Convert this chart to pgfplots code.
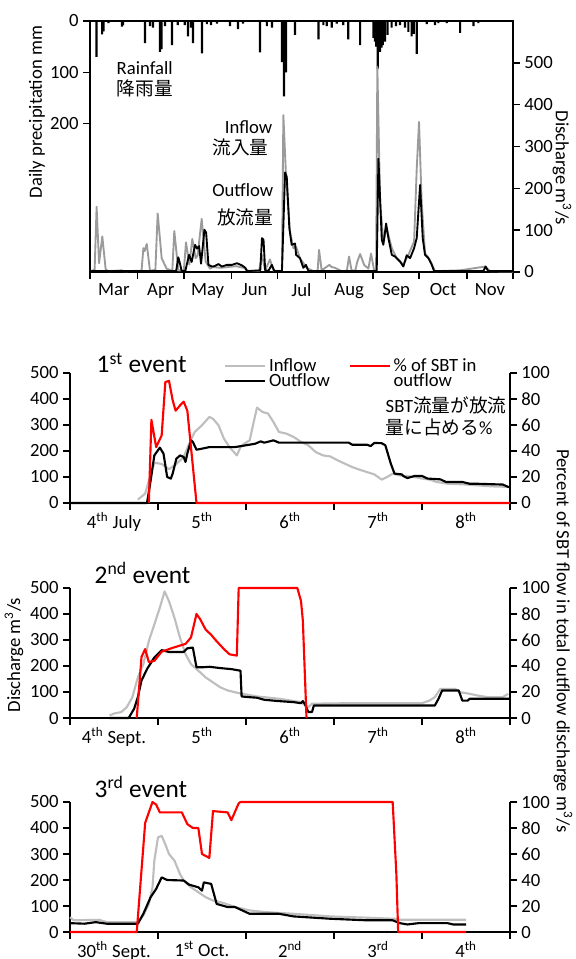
\documentclass[border=0pt]{standalone}
\usepackage{pgfplots}
\pgfplotsset{compat=1.18}
\usepackage{fontspec}
\setmainfont{Carlito}
\newfontfamily\jp{Noto Sans CJK JP}
\newcommand\fs{\fontsize{14}{16}\selectfont}
\newcommand\ft{\fontsize{19}{21}\selectfont}
\definecolor{topgray}{RGB}{155,155,155}
\definecolor{evgray}{RGB}{190,190,190}
\definecolor{sbtred}{RGB}{255,0,0}
\pgfplotsset{
  myaxis/.style={
    scale only axis, clip=false,
    axis line style={-, line width=1.1pt},
    every tick/.style={black, line width=1.1pt},
    tick align=outside,
    major tick length=5pt,
    tick label style={font=\fs},
    /pgf/number format/assume math mode=true,
  },
  evbase/.style={myaxis, width=330pt, height=97.5pt, xmin=0, xmax=120},
  evleft/.style={evbase, ymin=0, ymax=500, ytick={0,100,...,500},
    axis x line*=bottom, axis y line*=left, xtick pos=bottom, ytick pos=left,
    xtick={0,24,...,120}, x tick label as interval,
    xticklabel style={yshift=1.5pt}},
  evright/.style={evbase, ymin=0, ymax=100, ytick={0,20,...,100},
    axis y line*=right, axis x line=none, ytick pos=right},
}
\begin{document}
\begin{tikzpicture}
\useasboundingbox (0pt,0pt) rectangle (431.25pt,-719.25pt);

% ---------------- top panel: rainfall ----------------
\begin{axis}[myaxis, at={(67.5pt,-204pt)}, anchor=south west,
  width=317.25pt, height=188.25pt,
  xmin=0, xmax=275, ymin=0, ymax=489, y dir=reverse,
  xtick=\empty, ytick={0,100,200}, ytick pos=left]
\addplot[ybar, fill=black, draw=none, bar width=1.4] coordinates {
(4.2,70)(7.9,26)(8.8,20)(12,4)(20.8,11)(21.5,8)(35.8,43)(39,10)(41,13)(45.5,60)(46.5,55)(48.8,10)
(53.3,47)(57,8)(61.6,8)(63.7,30)(65.7,13)(67,43)(72.8,63)(76,6)(78.7,8)(82.6,5)(91,10)(96.2,16)
(99.5,5)(110.5,61)(115,10)(118.3,13)(124.8,80)(125.6,70)(126.1,147)(127.4,100)(133.3,27)(148.5,36)
(151.7,8)(153.9,10)(157.2,13)(160.4,5)(164.6,8)(167.9,36)(175.6,47)(184.2,33)(185.2,40)(186,50)
(187.1,93)(188.6,60)(189.5,52)(190.3,47)(191.8,40)(193.5,27)(196.1,13)(198.9,10)(201.5,8)(204.8,13)
(207,21)(209.1,30)(210.5,25)(212.4,64)(218.9,6)(224.3,8)(226.5,4)(231.9,4)(240.6,23)(249.3,10)(252.5,4)
};
\end{axis}

% ---------------- top panel: discharge ----------------
\begin{axis}[myaxis, at={(67.5pt,-204pt)}, anchor=south west,
  width=317.25pt, height=188.25pt,
  xmin=0, xmax=275, ymin=0, ymax=600,
  ytick={0,100,...,500}, ytick pos=right, xtick pos=bottom,
  xtick={0,31,61,92,122,153,184,214,245,275},
  xticklabels={Mar,Apr,May,Jun,Jul,Aug,Sep,Oct,Nov},
  x tick label as interval]
\addplot[topgray, line width=1.4pt, line join=round] coordinates {
(0,2)(3,5)(4.3,156)(5.9,21)(8.0,85)(10.2,6)(12,2)(20.6,4)(22,2)(33.5,3)(34.7,57)(35.5,50)(36.9,67)
(39,3)(42.5,5)(44,140)(46.6,33)(49.8,8)(53.5,3)(54.8,98)(57.4,4)(61,3)(62.4,71)(64.6,18)(66.5,79)
(68.7,33)(70,40)(72.6,127)(75.2,25)(78,8)(80,12)(85,10)(90,12)(95,14)(100,10)(103,3)(110,3)
(111.8,40)(113.9,4)(117,30)(119.3,3)(124.8,3)(125.7,375)(127.4,232)(130,97)(132.2,57)(134,60)
(136.5,33)(140.9,10)(145.2,2)(148,3)(148.9,53)(150.6,4)(155.6,17)(157,12)(159.3,10)(163.6,2)(167,3)
(168.4,37)(170.1,3)(172.5,4)(173.8,25)(175.6,43)(178.2,17)(181,8)(182.7,44)(184.7,4)(186,5)
(186.8,490)(188.6,168)(190.7,73)(192.9,104)(196.2,57)(199.4,33)(203.7,17)(207,41)(210.7,73)
(212.4,246)(213.9,359)(215.6,168)(217.8,45)(221,29)(224.3,2)(240.6,4)(256.8,13)(260.1,2)(275,1)
};
\addplot[black, line width=1.4pt, line join=round] coordinates {
(0,2)(56,2)(57.4,35)(58.5,20)(59.6,2)(62,3)(64.4,41)(66.1,24)(68.3,65)(69.6,56)(70.9,62)(72.2,20)
(74.4,101)(75.5,94)(77,17)(79.2,13)(81,14)(83.5,19)(85.7,13)(89,17)(92.2,17)(95.5,21)(98.7,16)
(101,10)(102,2)(110.7,4)(111.8,81)(112.8,77)(113.9,4)(116,3)(118.2,17)(119.9,2)(124.8,2)(126.8,238)
(127.9,228)(129.6,105)(131.1,65)(133.3,68)(134,41)(136.5,33)(138.7,10)(140.4,17)(142,2)(186.4,2)
(187.5,271)(189.7,77)(190.7,65)(192.5,116)(194,81)(196.2,41)(198.3,37)(201.6,25)(203.7,13)(205.9,40)
(208.1,33)(210.7,57)(212.4,81)(214.6,208)(216.3,81)(217.8,41)(220,33)(222.2,17)(223.7,2)(255.7,2)
(257.2,13)(258.9,2)(275,2)
};
\end{axis}

\node[font=\fs, rotate=90] at (27.75pt,-84pt) {Daily precipitation mm};
\node[font=\fs, rotate=-90] at (421.5pt,-126pt) {Discharge m\textsuperscript{3}/s};
\node[font=\fs, anchor=west] at (84pt,-51pt) {Rainfall};
\node[font=\fs\jp, anchor=west] at (84pt,-66pt) {降雨量};
\node[font=\fs, anchor=east] at (207.75pt,-95.25pt) {Inflow};
\node[font=\fs\jp, anchor=east] at (205pt,-110.25pt) {流入量};
\node[font=\fs, anchor=east] at (208.5pt,-142.5pt) {Outflow};
\node[font=\fs\jp, anchor=east] at (208.5pt,-162.75pt) {放流量};

% ---------------- event 1 ----------------
\begin{axis}[evleft, at={(52.5pt,-377.25pt)}, anchor=south west,
  xticklabels={4\textsuperscript{th} July,5\textsuperscript{th},6\textsuperscript{th},7\textsuperscript{th},8\textsuperscript{th}}]
\addplot[evgray, line width=1.6pt, line join=round] coordinates {
(18.5,13)(20.5,36)(22,110)(23,155)(25,150)(27,130)(29,150)(31,177)(32.5,228)(34,273)(36,299)(38,331)
(39,324)(40.5,299)(42,247)(43.5,215)(45.5,183)(46.5,215)(47.5,228)(49,241)(50,305)(51,367)(52.5,350)
(54,344)(55.5,311)(57,273)(59,267)(61,254)(63,235)(65,222)(67,196)(69,183)(71,179)(73,164)(75,151)
(77,138)(79,128)(81,119)(83,110)(85,90)(86.5,100)(88,113)(90,106)(92,103)(94,100)(96,94)(98,90)
(100,81)(103,74)(107,72)(111,68)(115,64)(119.5,62)
};
\addplot[black, line width=1.6pt, line join=round] coordinates {
(0,0)(21,0)(22,87)(23,183)(24.5,213)(25.5,190)(26.5,100)(27.5,94)(28,113)(29,170)(30,183)(31,177)
(31.5,158)(32,190)(33,241)(33.5,235)(34.5,205)(36,209)(38,215)(45,215)(48,222)(50.5,228)(52,237)
(53,232)(55.5,241)(57,232)(76,232)(77,224)(81,224)(82,219)(83,231)(85,230)(86,222)(87.5,151)
(88.5,113)(90.5,110)(91,103)(92,96)(94,104)(96,104)(97.5,94)(101,91)(102.5,81)(107,81)(109,74)
(111,74)(118,71)(119.5,62)(120,60)
};
\end{axis}
\begin{axis}[evright, at={(52.5pt,-377.25pt)}, anchor=south west,
  legend columns=2, legend cell align=left,
  legend image code/.code={\draw[#1] (0pt,0pt) -- (30pt,0pt);},
  legend style={at={(axis description cs:0.35,1.135)}, anchor=north west,
    draw=none, fill=none, font=\fs, inner sep=0pt, row sep=-4pt,
    /tikz/every even column/.append style={column sep=12pt}}]
\addlegendimage{evgray, line width=1.6pt}
\addplot[sbtred, line width=1.6pt, line join=round] coordinates {
(21.5,0)(22.2,64)(23.5,43)(25,52)(26,93)(27,94)(28,79)(28.8,71)(30,75)(31,78)(32,71)(34.5,0)(120,0)
};
\addlegendimage{black, line width=1.6pt}
\addlegendimage{empty legend}
\legend{Inflow,\% of SBT in,Outflow,outflow}
\end{axis}
\node[font=\ft, anchor=west] at (69pt,-272.25pt) {1\textsuperscript{st} event};
\node[font=\fs, anchor=west] at (285.75pt,-303.75pt) {SBT{\jp 流量が放流}};
\node[font=\fs, anchor=west] at (285.75pt,-320.25pt) {{\jp 量に占める}\%};

% ---------------- event 2 ----------------
\begin{axis}[evleft, at={(52.5pt,-538.5pt)}, anchor=south west,
  xticklabels={4\textsuperscript{th} Sept.,5\textsuperscript{th},6\textsuperscript{th},7\textsuperscript{th},8\textsuperscript{th}}]
\addplot[evgray, line width=1.6pt, line join=round] coordinates {
(10.8,10)(12,17)(14,23)(15.5,42)(17,80)(18.5,156)(20,207)(21.5,296)(23,360)(24.5,424)(25.8,487)
(27,449)(28.5,385)(30,309)(31.5,246)(33,207)(35,182)(37,156)(39,137)(41,118)(43,106)(45,99)(47,93)
(51,83)(57,74)(63,61)(65,42)(66,55)(76,57)(91,57)(96,57)(98,67)(99.5,80)(101,112)(105,112)(106.5,99)
(109,93)(111,87)(114,80)(118,80)(119.5,93)
};
\addplot[black, line width=1.6pt, line join=round] coordinates {
(10.8,0)(16,0)(17.5,36)(18.5,80)(19.5,144)(21,188)(23,233)(25,261)(27,254)(31,254)(32,268)(33.5,271)
(34.5,195)(36,195)(38,197)(41,192)(44,188)(46.5,182)(46.8,83)(49,80)(51,78)(53,70)(57,65)(61,61)
(63,57)(63.5,65)(64,55)(65,23)(66,23)(66.5,48)(99.5,48)(100.5,74)(101.5,106)(106,106)(107,67)
(108.5,67)(109,74)(120,74)
};
\end{axis}
\begin{axis}[evright, at={(52.5pt,-538.5pt)}, anchor=south west]
\addplot[sbtred, line width=1.6pt, line join=round] coordinates {
(18.2,0)(19.5,47)(20.5,53)(21.5,43)(23,44)(25,51)(28,54)(31.5,57)(33,62)(34.5,80)(35.5,76)(37,68)
(38.5,64)(40,59)(42,53)(43.5,49)(45.5,48)(46,100)(62,100)(63,90)(63.5,75)(64.5,0)
};
\end{axis}
\node[font=\ft, anchor=west] at (67.5pt,-429.75pt) {2\textsuperscript{nd} event};

% ---------------- event 3 ----------------
\begin{axis}[evleft, at={(52.5pt,-699pt)}, anchor=south west,
  xticklabels={30\textsuperscript{th} Sept.,1\textsuperscript{st} Oct.,2\textsuperscript{nd},3\textsuperscript{rd},4\textsuperscript{th}}]
\addplot[evgray, line width=1.6pt, line join=round] coordinates {
(0,57)(1,45)(8,47)(10,38)(18.5,38)(20,64)(21.5,108)(22.5,172)(23,274)(24,364)(25,370)(26,337)
(27,300)(28.5,274)(30,223)(31,198)(33,172)(35,153)(37,134)(39,121)(41,115)(43,106)(45,96)(49,83)
(53,77)(61,70)(71,60)(81,55)(88.5,51)(90,47)(108,47)
};
\addplot[black, line width=1.6pt, line join=round] coordinates {
(0,34)(4,32)(7,38)(10,32)(18.5,32)(20,70)(22,134)(23.5,166)(25,210)(26.5,200)(31,198)(32.5,182)
(35,172)(36,159)(36.5,191)(38.5,185)(40,108)(43,96)(45,96)(47,83)(49,70)(57,70)(61,60)(71,51)
(81,45)(88,45)(90,34)(92,29)(95,34)(103,34)(104.5,29)(108,29)
};
\end{axis}
\begin{axis}[evright, at={(52.5pt,-699pt)}, anchor=south west]
\addplot[sbtred, line width=1.6pt, line join=round] coordinates {
(0,0)(18.2,0)(20.5,84)(22.5,100)(23.5,98)(24.5,92)(30.5,92)(32,83)(33.5,80)(35,80)(36,60)(38,57)
(39,93)(43,92)(44,86)(46,99)(46.5,100)(88,100)(89,45)(89.5,0)(108,0)
};
\end{axis}
\node[font=\ft, anchor=west] at (67.5pt,-590.25pt) {3\textsuperscript{rd} event};

\node[font=\fs, rotate=90] at (10.5pt,-491.25pt) {Discharge m\textsuperscript{3}/s};
\node[font=\fs, rotate=-90] at (422.25pt,-480.75pt) {Percent of SBT flow in total outflow discharge m\textsuperscript{3}/s};
\end{tikzpicture}
\end{document}
